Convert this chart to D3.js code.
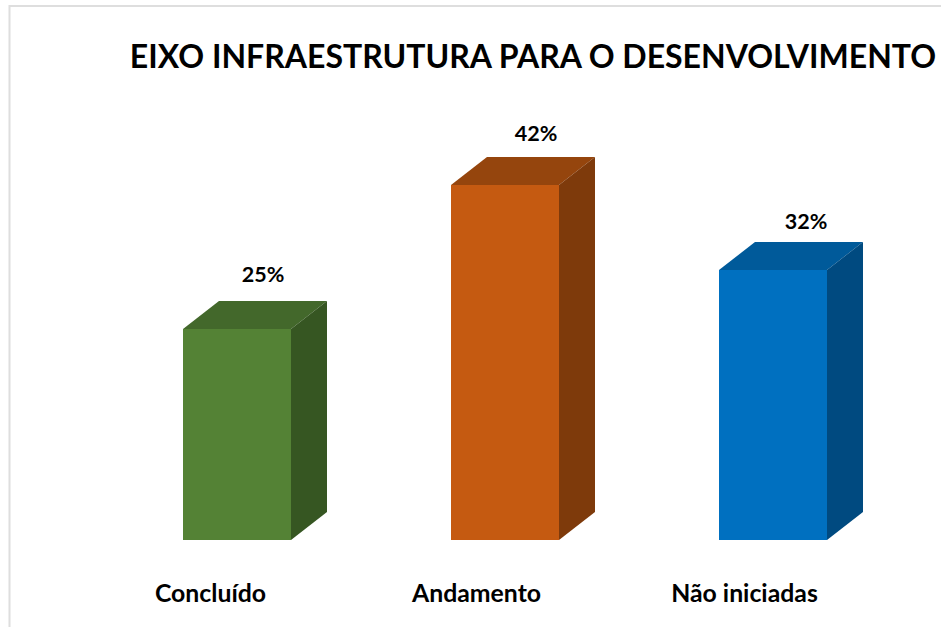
<!DOCTYPE html>
<html>
<head>
<meta charset="utf-8">
<script src="https://cdn.jsdelivr.net/npm/d3@7"></script>
<style>
  html, body { margin: 0; padding: 0; background: #fff; overflow: hidden; }
  text { font-family: Lato, "Open Sans", sans-serif; font-weight: 700; fill: #000; }
</style>
</head>
<body>
<svg id="chart"></svg>
<script>
const titleText = "EIXO INFRAESTRUTURA PARA O DESENVOLVIMENTO";
const categories = ["Concluído", "Andamento", "Não iniciadas"];
const percents = [25, 42, 32];
const frontColors = ["#548235", "#C55A11", "#0070C0"];
const topColors = ["#43682B", "#95450D", "#005A9A"];
const sideColors = ["#365622", "#7E3A0B", "#004A80"];
// the value labels were moved by hand in the original
const labelNudgeX = [-1, 4, 6];
const labelNudgeY = [0, 3, 6];

const width = 941;
const height = 627;
const depthX = 36;
const depthY = 28;

const svg = d3.select("#chart").attr("width", width).attr("height", height);

// chart frame, runs off the right and bottom of the window
svg.append("rect")
    .attr("x", 9.5).attr("y", 6)
    .attr("width", 960).attr("height", 660)
    .attr("fill", "#fff")
    .attr("stroke", "#dedede")
    .attr("stroke-width", 2);

svg.append("text")
    .attr("x", 533).attr("y", 68)
    .attr("text-anchor", "middle")
    .attr("font-size", 32)
    .text(titleText);

const x = d3.scaleBand().domain(categories).range([103, 907]).paddingInner(0.598).paddingOuter(0.299).round(true);
const y = d3.scaleLinear().domain([0, 42]).rangeRound([540, 185]);

const bars = svg.selectAll("g.bar")
    .data(categories)
    .enter()
    .append("g")
    .attr("class", "bar");

// top face
bars.append("path")
    .attr("fill", (d, i) => topColors[i])
    .attr("d", (d, i) => {
        const p = d3.path();
        const l = x(d), r = l + x.bandwidth(), t = y(percents[i]);
        p.moveTo(l, t);
        p.lineTo(l + depthX, t - depthY);
        p.lineTo(r + depthX, t - depthY);
        p.lineTo(r, t);
        p.closePath();
        return p.toString();
    });

// side face
bars.append("path")
    .attr("fill", (d, i) => sideColors[i])
    .attr("d", (d, i) => {
        const p = d3.path();
        const r = x(d) + x.bandwidth(), t = y(percents[i]), b = y(0);
        p.moveTo(r, t);
        p.lineTo(r + depthX, t - depthY);
        p.lineTo(r + depthX, b - depthY);
        p.lineTo(r, b);
        p.closePath();
        return p.toString();
    });

// front face
bars.append("rect")
    .attr("x", d => x(d))
    .attr("y", (d, i) => y(percents[i]))
    .attr("width", x.bandwidth())
    .attr("height", (d, i) => y(0) - y(percents[i]))
    .attr("fill", (d, i) => frontColors[i]);

// value labels sit above the back edge of the top face
bars.append("text")
    .attr("x", (d, i) => x(d) + x.bandwidth() / 2 + 27 + labelNudgeX[i])
    .attr("y", (d, i) => y(percents[i]) - 47 + labelNudgeY[i])
    .attr("text-anchor", "middle")
    .attr("font-size", 21.5)
    .text((d, i) => percents[i] + "%");

// category labels are shifted left of the bars in the original
const axis = svg.append("g")
    .attr("transform", "translate(-27,540)")
    .call(d3.axisBottom(x).tickSize(0).tickPadding(44));
axis.select(".domain").remove();
axis.selectAll("text")
    .attr("x", (d, i) => i === 0 ? 0 : -2)
    .attr("font-size", 24.8)
    .style("font-family", "Lato, 'Open Sans', sans-serif")
    .style("font-weight", 700);
</script>
</body>
</html>
